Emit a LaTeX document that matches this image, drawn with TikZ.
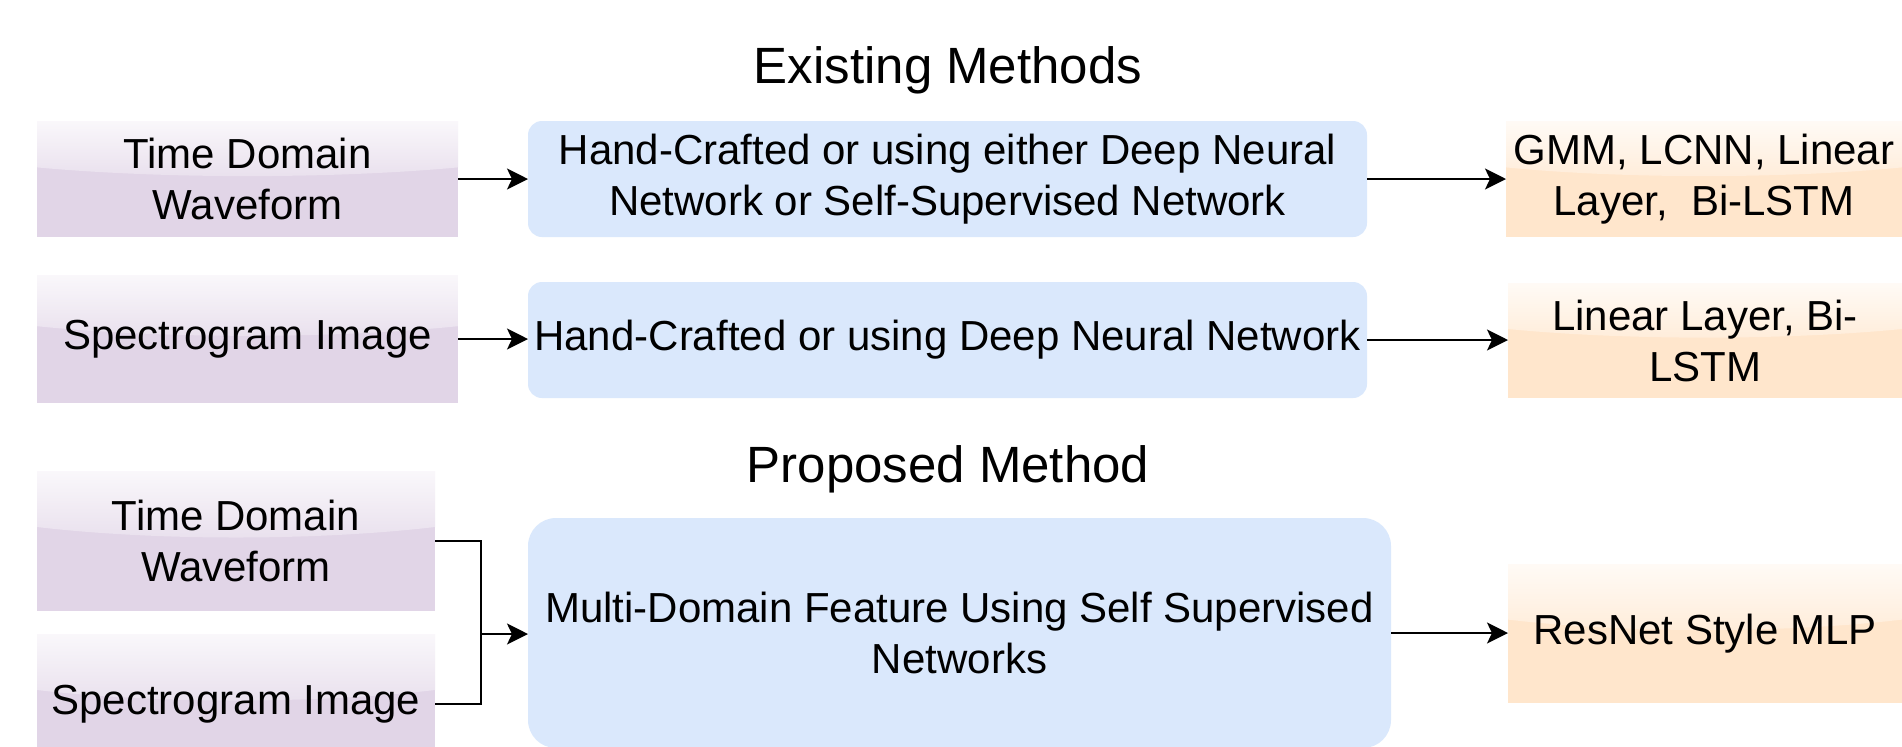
\documentclass[tikz,border=0pt]{standalone}
\usepackage{fontspec}
\setmainfont{Liberation Sans}
\usetikzlibrary{arrows.meta}
\definecolor{purp}{HTML}{E1D5E7}
\definecolor{blu}{HTML}{DAE8FC}
\definecolor{oran}{HTML}{FFE6CC}
\tikzset{
  boxbase/.style={draw=none, inner sep=0pt, outer sep=0pt},
  txt/.style={font=\fontsize{21}{25.5}\selectfont, align=center, inner sep=0pt},
  ttl/.style={font=\fontsize{25.5}{30}\selectfont, inner sep=0pt, anchor=base},
  bluebox/.style={boxbase, fill=blu, txt},
  arr/.style={line width=1pt, -{Stealth[length=10.5pt, width=10.5pt, inset=2.5pt]}},
  conn/.style={line width=1pt},
}
\newcommand{\glassbox}[7]{%
  \node[boxbase, fill=#6, minimum width={(#4-#2)*0.5pt}, minimum height={(#5-#3)*0.5pt}] (#1) at ({(#2+#4)/2},{(#3+#5)/2}) {};
  \shade[top color=white!82!#6, bottom color=white!25!#6] (#2,#3) -- (#2,{#3+0.4*(#5-#3)}) .. controls ({#2+0.3*(#4-#2)},{#3+0.5*(#5-#3)}) and ({#4-0.3*(#4-#2)},{#3+0.5*(#5-#3)}) .. (#4,{#3+0.4*(#5-#3)}) -- (#4,#3) -- cycle;
  \node[txt] at (#1.center) {#7};
}
\begin{document}
\begin{tikzpicture}[x=0.5pt, y=-0.5pt]
\useasboundingbox (0,0) rectangle (1902,746);
\fill[white] (0,0) rectangle (1902,746);
\clip (0,0) rectangle (1902,746);

% titles
\node[ttl] (T1) at (948,83) {Existing Methods};
\node[ttl] (T2) at (948,482) {Proposed Method};

% existing, row 1
\glassbox{A1}{37}{121}{458}{237}{purp}{Time Domain\\Waveform}
\node[bluebox, rounded corners=7pt, minimum width=419.5pt, minimum height=58pt] (B1) at (947.5,179) {Hand-Crafted or using either Deep Neural\\Network or Self-Supervised Network};
\glassbox{C1}{1506}{121}{1902}{237}{oran}{GMM, LCNN, Linear\\Layer,\ \ Bi-LSTM}

% existing, row 2
\glassbox{A2}{37}{275}{458}{403}{purp}{Spectrogram Image}
\node[bluebox, rounded corners=7pt, minimum width=419.5pt, minimum height=58pt] (B2) at (947.5,340) {Hand-Crafted or using Deep Neural Network};
\glassbox{C2}{1508}{283}{1902}{398}{oran}{Linear Layer, Bi-\\LSTM}

% proposed
\glassbox{A3}{37}{471}{435}{611}{purp}{Time Domain\\Waveform}
\glassbox{A4}{37}{634}{435}{774}{purp}{Spectrogram Image}
\node[bluebox, rounded corners=14pt, minimum width=431.5pt, minimum height=115pt] (B3) at (959.5,633) {Multi-Domain Feature Using Self Supervised\\Networks};
\glassbox{C3}{1508}{564}{1902}{703}{oran}{ResNet Style MLP}

% connectors
\draw[arr] (A1.east) -- (B1.west);
\draw[arr] (B1.east) -- (C1.west);
\draw[arr] (A2.east) -- (A2.east -| B2.west);
\draw[arr] (B2.east) -- (B2.east -| C2.west);
\coordinate (J) at (481,634);
\draw[conn] (A3.east) -| (J) |- (A4.east);
\draw[arr] (J) -- (J -| B3.west);
\draw[arr] (B3.east) -- (B3.east -| C3.west);
\end{tikzpicture}
\end{document}
